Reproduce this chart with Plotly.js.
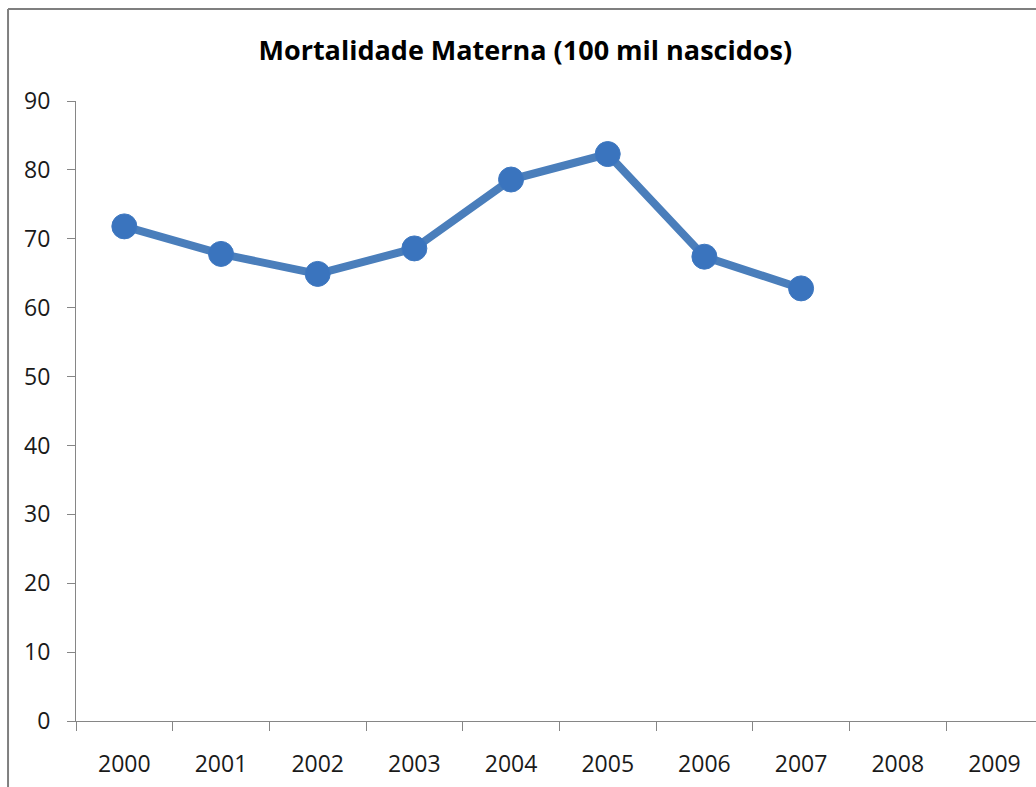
<!DOCTYPE html>
<html>
<head>
<meta charset="utf-8">
<script src="https://cdn.plot.ly/plotly-3.0.1.min.js"></script>
<style>html,body{margin:0;padding:0;background:#fff;}#chart{width:1036px;height:787px;}</style>
</head>
<body>
<div id="chart"></div>
<script>
const years = ["2000","2001","2002","2003","2004","2005","2006","2007","2008","2009"];
const mortalidade = [71.8, 67.8, 64.9, 68.6, 78.6, 82.3, 67.4, 62.8, null, null];
const yTicks = [0,10,20,30,40,50,60,70,80,90];

const axisColor = '#868686';
const fontFam = '"Open Sans", "Noto Sans", sans-serif';

const trace = {
  x: years,
  y: mortalidade,
  type: 'scatter',
  mode: 'lines+markers',
  line: {color: '#4A7EBB', width: 8},
  marker: {color: '#3A74BE', size: 25, line: {color: '#3F78C0', width: 1}},
  connectgaps: false,
  hoverinfo: 'x+y'
};

const layout = {
  width: 1036,
  height: 787,
  margin: {l: 76, r: 0, t: 101, b: 66, pad: 0},
  paper_bgcolor: '#ffffff',
  plot_bgcolor: '#ffffff',
  showlegend: false,
  font: {family: fontFam, color: '#1a1a1a', size: 23},
  title: {
    text: 'Mortalidade Materna (100 mil nascidos)',
    font: {family: fontFam, size: 27, color: '#000000', weight: 'bold'},
    x: 0.468, xref: 'paper', xanchor: 'center',
    y: 1 - 51/787, yref: 'container', yanchor: 'middle'
  },
  xaxis: {
    type: 'category',
    categoryorder: 'array',
    categoryarray: years,
    range: [-0.5, 9.43],
    tickson: 'boundaries',
    ticks: 'outside',
    ticklen: 9,
    tickwidth: 1,
    tickcolor: axisColor,
    showline: true,
    linecolor: axisColor,
    linewidth: 1,
    showgrid: false,
    zeroline: false,
    tickfont: {family: fontFam, size: 23, color: '#1a1a1a'},
    ticklabelstandoff: 22,
    fixedrange: true
  },
  yaxis: {
    range: [0, 90],
    tickmode: 'array',
    tickvals: yTicks,
    ticktext: yTicks.map(String),
    ticks: 'outside',
    ticklen: 8,
    tickwidth: 1,
    tickcolor: axisColor,
    showline: true,
    linecolor: axisColor,
    linewidth: 1,
    showgrid: false,
    zeroline: false,
    tickfont: {family: fontFam, size: 23, color: '#1a1a1a'},
    ticklabelstandoff: 12,
    fixedrange: true
  },
  shapes: [
    {type: 'line', xref: 'paper', yref: 'paper', x0: -0.0708, x1: -0.0708, y0: -0.3, y1: 1.1485,
     line: {color: '#7f7f7f', width: 2}},
    {type: 'line', xref: 'paper', yref: 'paper', x0: -0.0708, x1: 1.2, y0: 1.1485, y1: 1.1485,
     line: {color: '#7f7f7f', width: 2}}
  ]
};

Plotly.newPlot('chart', [trace], layout, {displayModeBar: false, staticPlot: true});
</script>
</body>
</html>
